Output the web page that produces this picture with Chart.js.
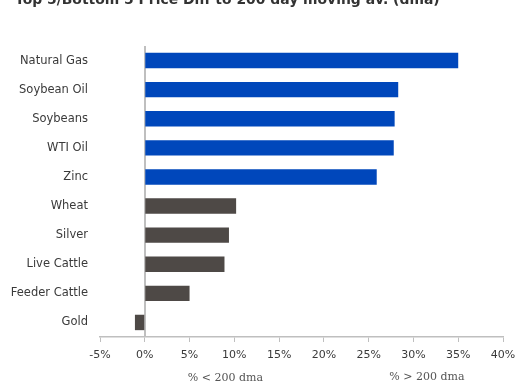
<!DOCTYPE html>
<html>
<head>
<meta charset="utf-8">
<script src="https://cdn.jsdelivr.net/npm/chart.js@4"></script>
<style>
  html, body { margin: 0; padding: 0; background: #fff; overflow: hidden; }
  #wrap { width: 524px; height: 385px; position: relative; }
</style>
</head>
<body>
<div id="wrap"><canvas id="c" width="524" height="385"></canvas></div>
<script>
// Commodities ranked by % distance from their 200-day moving average
const categories = ['Natural Gas', 'Soybean Oil', 'Soybeans', 'WTI Oil', 'Zinc',
                    'Wheat', 'Silver', 'Live Cattle', 'Feeder Cattle', 'Gold'];
const diffPct = [35.0, 28.3, 27.9, 27.8, 25.9, 10.2, 9.4, 8.9, 5.0, -1.1];
const groupTop5 = [true, true, true, true, true, false, false, false, false, false];
const tickValues = [-5, 0, 5, 10, 15, 20, 25, 30, 35, 40];
const titleText = 'Top 5/Bottom 5 Price Diff to 200 day moving av. (dma)';
const belowLabel = '% < 200 dma';
const aboveLabel = '% > 200 dma';

const BLUE = '#0047bb';
const DARK = '#4e4946';
const AXIS = '#bfbfbf';

// Vertical reference line at 0%
const zeroLine = {
  id: 'zeroLine',
  beforeDatasetsDraw(chart) {
    const ctx = chart.ctx;
    const x = Math.round(chart.scales.x.getPixelForValue(0));
    const area = chart.chartArea;
    ctx.save();
    ctx.strokeStyle = AXIS;
    ctx.lineWidth = 2;
    ctx.beginPath();
    ctx.moveTo(x, area.top);
    ctx.lineTo(x, area.bottom);
    ctx.stroke();
    ctx.restore();
  }
};

// Title (partly above the top edge) and the two serif notes under the x axis
const extraText = {
  id: 'extraText',
  afterDraw(chart) {
    const ctx = chart.ctx;
    const xs = chart.scales.x;
    ctx.save();
    ctx.fillStyle = '#333333';
    let size = 14;
    ctx.font = 'bold ' + size + 'px "DejaVu Sans", sans-serif';
    const w = ctx.measureText(titleText).width;
    size = size * 425 / w;
    ctx.font = 'bold ' + size.toFixed(2) + 'px "DejaVu Sans", sans-serif';
    ctx.textAlign = 'left';
    ctx.textBaseline = 'alphabetic';
    ctx.fillText(titleText, 15, 3.5);

    ctx.fillStyle = '#555555';
    ctx.font = '11px "DejaVu Serif", "Liberation Serif", serif';
    ctx.textAlign = 'center';
    ctx.textBaseline = 'middle';
    ctx.fillText(belowLabel, xs.getPixelForValue(9), 378);
    ctx.fillText(aboveLabel, xs.getPixelForValue(31.5), 377);
    ctx.restore();
  }
};

new Chart(document.getElementById('c'), {
  type: 'bar',
  data: {
    labels: categories,
    datasets: [{
      data: diffPct,
      backgroundColor: groupTop5.map(t => t ? BLUE : DARK),
      borderWidth: 0,
      categoryPercentage: 1.0,
      barPercentage: 0.53
    }]
  },
  options: {
    indexAxis: 'y',
    responsive: false,
    animation: false,
    events: [],
    layout: { padding: { left: 0, right: 21, top: 46, bottom: 0 } },
    plugins: { legend: { display: false }, tooltip: { enabled: false }, title: { display: false } },
    scales: {
      x: {
        min: -5,
        max: 40,
        afterBuildTicks(scale) { scale.ticks = tickValues.map(v => ({ value: v })); },
        afterFit(scale) { scale.height = 48; },
        grid: { display: true, drawOnChartArea: false, drawTicks: true, tickLength: 5, color: AXIS, lineWidth: 1 },
        border: { display: true, color: AXIS, width: 1.5 },
        ticks: {
          padding: 7,
          color: '#3a3a3a',
          font: { family: '"DejaVu Sans", sans-serif', size: 11 },
          callback: v => v + '%',
          maxRotation: 0
        }
      },
      y: {
        afterFit(scale) { scale.width = 100; },
        grid: { display: false, drawTicks: false },
        border: { display: false },
        ticks: {
          padding: 12,
          color: '#3a3a3a',
          font: { family: '"DejaVu Sans", sans-serif', size: 11.5 }
        }
      }
    }
  },
  plugins: [zeroLine, extraText]
});
</script>
</body>
</html>
